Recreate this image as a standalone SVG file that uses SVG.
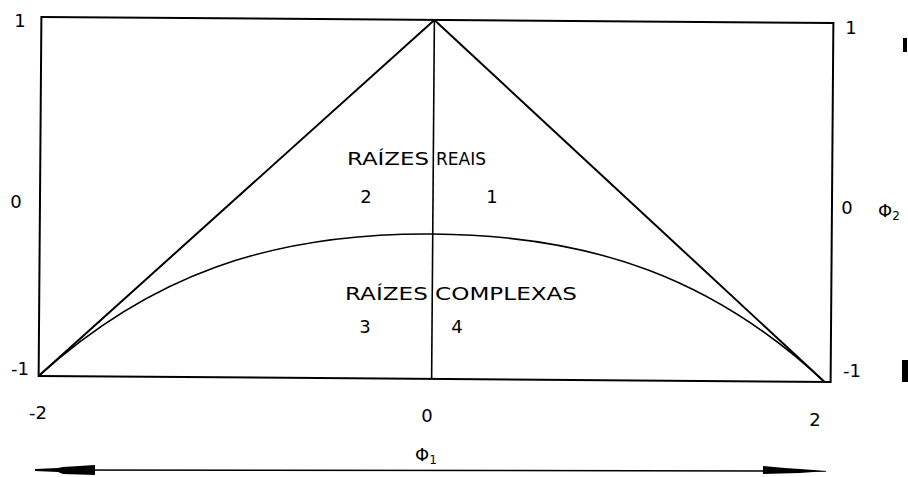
<svg xmlns="http://www.w3.org/2000/svg" width="908" height="477" viewBox="0 0 908 477">
<style>
  .ln { fill: none; stroke: #000; stroke-width: 2; }
  .thin { fill: none; stroke: #000; stroke-width: 1.6; }
  .t { font-family: "DejaVu Sans", "Liberation Sans", sans-serif; font-size: 18px; fill: #000; }
  .c { text-anchor: middle; }
</style>
<rect width="908" height="477" fill="#fff"/>
<g id="frame" transform="rotate(0.44 436 200)">
  <rect x="40" y="20" width="792" height="359" class="ln"/>
</g>
<g id="connectors" transform="rotate(0.44 436 200)">
  <line x1="433" y1="20" x2="433" y2="379" class="thin"/>
  <line x1="433" y1="20" x2="40" y2="379" class="ln"/>
  <line x1="433" y1="20" x2="826" y2="379" class="ln"/>
  <path d="M40,379 C150,278 270,234 433,234 C596,234 716,278 826,379" class="thin"/>
</g>
<g id="axis-arrow">
  <line x1="40" y1="470" x2="826" y2="471" stroke="#000" stroke-width="1.5"/>
  <polygon points="35,469 58,468 63,467 95,465 95,475 63,474 58,472 35,471" fill="#000"/>
  <polygon points="763,466 785,468 800,469 827,471 800,473 763,474" fill="#000"/>
</g>
<g id="labels">
  <text class="t c" x="20" y="27">1</text>
  <text class="t c" x="16" y="208">0</text>
  <text class="t c" x="20" y="375">-1</text>
  <text class="t c" x="38" y="419">-2</text>
  <text class="t c" x="427" y="422">0</text>
  <text class="t c" x="815" y="426">2</text>
  <text class="t" x="415" y="461">Φ<tspan font-size="12" dy="3">1</tspan></text>
  <text class="t c" x="851" y="34">1</text>
  <text class="t c" x="847" y="214">0</text>
  <text class="t" x="878" y="217">Φ<tspan font-size="12" dy="3">2</tspan></text>
  <text class="t c" x="852" y="377">-1</text>
</g>
<g id="region-real">
  <text class="t" y="165"><tspan x="347" textLength="82" lengthAdjust="spacingAndGlyphs">RAÍZES</tspan> <tspan x="436" textLength="50" lengthAdjust="spacingAndGlyphs">REAIS</tspan></text>
  <text class="t c" x="366" y="203">2</text>
  <text class="t c" x="492" y="203">1</text>
</g>
<g id="region-complex">
  <text class="t" x="345" y="300" textLength="232" lengthAdjust="spacingAndGlyphs">RAÍZES COMPLEXAS</text>
  <text class="t c" x="365" y="333">3</text>
  <text class="t c" x="457" y="333">4</text>
</g>
<g id="marks">
  <rect x="903" y="38" width="4" height="14" fill="#000"/>
  <rect x="902" y="360" width="6" height="22" fill="#000"/>
</g>
</svg>
